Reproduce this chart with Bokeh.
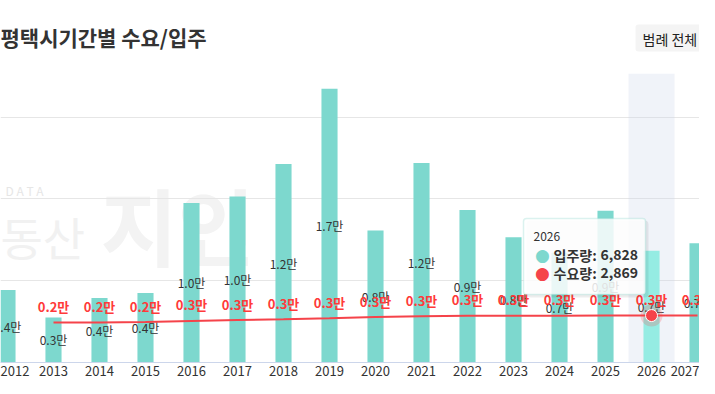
from bokeh.plotting import figure
from bokeh.models import Range1d, FixedTicker, Label, BoxAnnotation, ColumnDataSource, Grid
from bokeh.core.properties import value
from bokeh.embed import file_html
from bokeh.resources import INLINE

# ---------------- data ----------------
years = [2012, 2013, 2014, 2015, 2016, 2017, 2018, 2019, 2020, 2021, 2022, 2023, 2024, 2025, 2026, 2027]
supply = [4430, 2750, 3940, 4240, 9740, 10150, 12130, 16730, 8060, 12190, 9320, 7650, 6700, 9280, 6828, 7290]
demand_years = [2013, 2014, 2015, 2016, 2017, 2018, 2019, 2020, 2021, 2022, 2023, 2024, 2025, 2026, 2027]
demand = [2440, 2450, 2470, 2540, 2590, 2640, 2700, 2780, 2830, 2850, 2855, 2860, 2865, 2869, 2872]
year_labels = [str(y) for y in years]
title_text = "평택시기간별 수요/입주"
supply_name = "입주량"
demand_name = "수요량"
hover_year = 2026
legend_button_text = "범례 전체 닫기"

FONT = "Noto Sans CJK KR"
TEAL = "#7dd8ce"
TEAL_HOVER = "#95ece3"
RED = "#f5434a"
RED_TXT = "#ff3a3a"


def man(v):
    return f"{v / 10000:.1f}만"


# ---------------- figure ----------------
p = figure(width=699, height=378, output_backend="svg", toolbar_location=None,
           x_range=Range1d(2011.848, 2027.043), y_range=Range1d(0, 22120),
           y_axis_location=None,
           min_border_left=0, min_border_right=0, min_border_top=0, min_border_bottom=0)
p.outline_line_color = None
p.background_fill_color = "white"
p.border_fill_color = "white"
for g in p.grid:
    g.visible = False
p.add_layout(Grid(dimension=1, ticker=FixedTicker(ticks=[5000, 10000, 15000]),
                  grid_line_color="#e6e6e6", grid_line_width=1))

ax = p.xaxis[0]
ax.ticker = FixedTicker(ticks=years)
ax.major_label_overrides = {y: l for y, l in zip(years, year_labels)}
ax.major_tick_line_color = None
ax.minor_tick_line_color = None
ax.major_tick_out = 0
ax.major_tick_in = 0
ax.minor_tick_out = 0
ax.minor_tick_in = 0
ax.axis_line_color = "#ccd6eb"
ax.major_label_standoff = 3
ax.major_label_text_font = FONT
ax.major_label_text_font_size = "13px"
ax.major_label_text_color = "#333333"

FB = 361  # frame bottom in canvas pixels


def sx(px):
    return px


def sy(py):
    return FB - py


# ---------------- watermark ----------------
p.add_layout(Label(x=sx(0), y=sy(234), x_units="screen", y_units="screen", text="동산",
                   text_align="left", text_baseline="middle", text_font=FONT,
                   text_font_size="46px", text_color="#f1f1f1", level="image"))
p.add_layout(Label(x=sx(100), y=sy(222), x_units="screen", y_units="screen", text="지인",
                   text_align="left", text_baseline="middle", text_font=FONT, text_font_style="bold",
                   text_font_size="84px", text_color="#f3f3f3", level="image"))
p.add_layout(Label(x=sx(5), y=sy(189), x_units="screen", y_units="screen", text="D   A   T   A",
                   text_align="left", text_baseline="middle", text_font=FONT,
                   text_font_size="12px", text_color="#e6e6e6", level="image"))

# ---------------- hover band ----------------
p.add_layout(BoxAnnotation(left=hover_year - 0.5, right=hover_year + 0.5, bottom=0, top=17650,
                           fill_color="#ccd6eb", fill_alpha=0.3, line_color=None, level="underlay"))

# ---------------- bars ----------------
colors = [TEAL_HOVER if y == hover_year else TEAL for y in years]
src = ColumnDataSource(dict(x=years, top=supply, mid=[v / 2 for v in supply],
                            lab=[man(v) for v in supply], color=colors))
p.vbar(x="x", top="top", width=0.35, fill_color="color", line_color=None, source=src)
p.text(x="x", y="mid", text="lab", source=src, text_align="center", text_baseline="middle",
       text_font=value(FONT), text_font_size="12px", text_color="#333333")

# ---------------- demand line ----------------
dsrc = ColumnDataSource(dict(x=demand_years, y=demand, lab=[man(v) for v in demand]))
p.line(x="x", y="y", source=dsrc, line_color=RED, line_width=2)
hi = demand_years.index(hover_year)
p.scatter([demand_years[hi]], [demand[hi]], size=22, fill_color=RED, fill_alpha=0.22, line_color=None)
p.scatter([demand_years[hi]], [demand[hi]], size=12, fill_color=RED, line_color="white", line_width=1)
p.text(x="x", y="y", text="lab", source=dsrc, y_offset=-16, text_align="center",
       text_baseline="middle", text_font=value(FONT), text_font_size="13px",
       text_font_style="bold", text_color=RED_TXT)

# ---------------- title & legend button ----------------
p.add_layout(Label(x=sx(0), y=sy(35), x_units="screen", y_units="screen", text=title_text,
                   text_align="left", text_baseline="middle", text_font=FONT, text_font_style="bold",
                   text_font_size="21px", text_color="#333333"))
p.add_layout(BoxAnnotation(left=sx(635), right=sx(730), top=sy(23), bottom=sy(50),
                           left_units="screen", right_units="screen", top_units="screen",
                           bottom_units="screen", fill_color="#f4f4f4", fill_alpha=1,
                           line_color=None, border_radius=3))
p.add_layout(Label(x=sx(642), y=sy(37), x_units="screen", y_units="screen", text=legend_button_text,
                   text_align="left", text_baseline="middle", text_font=FONT,
                   text_font_size="14px", text_color="#222222"))

# ---------------- tooltip ----------------
si = years.index(hover_year)
p.add_layout(BoxAnnotation(left=sx(526), right=sx(648), top=sy(219), bottom=sy(296),
                           left_units="screen", right_units="screen", top_units="screen",
                           bottom_units="screen", fill_color="#000000", fill_alpha=0.07,
                           line_color=None, border_radius=4, level="overlay"))
p.add_layout(BoxAnnotation(left=sx(523), right=sx(645), top=sy(217), bottom=sy(293),
                           left_units="screen", right_units="screen", top_units="screen",
                           bottom_units="screen", fill_color="white", fill_alpha=0.85,
                           line_color="#88d3ca", line_width=1.5, border_radius=3, level="overlay"))
p.add_layout(Label(x=sx(533), y=sy(235), x_units="screen", y_units="screen", text=str(hover_year),
                   text_align="left", text_baseline="middle", text_font=FONT,
                   text_font_size="12px", text_color="#333333", level="overlay"))
for row_y, col, name, val in [(253, TEAL, supply_name, supply[si]), (271, RED, demand_name, demand[hi])]:
    p.add_layout(Label(x=sx(542), y=sy(row_y), x_units="screen", y_units="screen", text="●",
                       text_align="center", text_baseline="middle", text_font="DejaVu Sans",
                       text_font_size="17px", text_color=col, level="overlay"))
    p.add_layout(Label(x=sx(553), y=sy(row_y), x_units="screen", y_units="screen", text=f"{name}:",
                       text_align="left", text_baseline="middle", text_font=FONT, text_font_style="bold",
                       text_font_size="14px", text_color="#333333", level="overlay"))
    p.add_layout(Label(x=sx(600), y=sy(row_y), x_units="screen", y_units="screen", text=f"{val:,}",
                       text_align="left", text_baseline="middle", text_font=FONT, text_font_style="bold",
                       text_font_size="14px", text_color="#333333", level="overlay"))

open("out.html", "w").write(file_html(p, INLINE))
